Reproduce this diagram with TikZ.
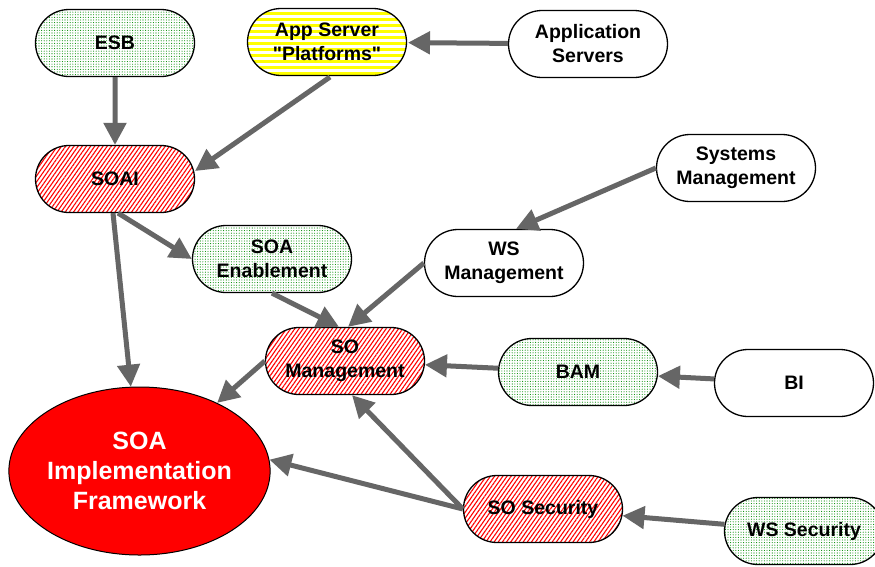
\documentclass[tikz,border=0pt]{standalone}
\usepackage{fontspec}
\setmainfont{Liberation Sans}[Ligatures=TeXOff]
\usetikzlibrary{shapes.misc,shapes.geometric,arrows.meta,patterns.meta,calc}
\definecolor{arrowgray}{HTML}{666666}
\begin{document}
\begin{tikzpicture}[x=1pt,y=-1pt,
 box/.style={rounded rectangle, draw=black, line width=1.3pt, minimum width=159pt, minimum height=67pt, inner sep=0pt, align=center, font=\bfseries\fontsize{19.5}{24}\selectfont},
 plainbox/.style={box, fill=white},
 greenbox/.style={box, preaction={fill=white}, pattern={Dots[distance=2.6pt,radius=0.55pt]}, pattern color=green!55!black},
 redbox/.style={box, preaction={fill=white}, pattern={Lines[angle=55,distance=3.4pt,line width=1.1pt]}, pattern color=red},
 yellowbox/.style={box, preaction={fill=white}, pattern={Lines[angle=0,distance=6pt,line width=3pt]}, pattern color=yellow},
 conn/.style={draw=arrowgray, line width=5pt, -{Triangle[length=22pt,width=22pt]}},
]
\useasboundingbox[fill=white] (0,0) rectangle (875,566);

\node[greenbox] (esb) at (115,43) {ESB};
\node[yellowbox] (app) at (327,42) {App Server\\"Platforms"};
\node[plainbox] (appsrv) at (588,44) {Application\\Servers};
\node[redbox] (soai) at (115,179) {SOAI};
\node[plainbox] (sys) at (736,168) {Systems\\Management};
\node[greenbox] (soaen) at (272,259) {SOA\\Enablement};
\node[plainbox] (wsm) at (504,263) {WS\\Management};
\node[redbox] (som) at (345,361) {SO\\Management};
\node[greenbox] (bam) at (578,372) {BAM};
\node[plainbox] (bi) at (794,383) {BI};
\node[redbox] (sosec) at (543,509) {SO Security};
\node[greenbox] (wssec) at (804,531) {WS Security};
\node[ellipse, draw=black, line width=1pt, fill=red, minimum width=255pt, minimum height=168pt, inner sep=0pt, text=white, align=center, font=\bfseries\fontsize{25}{30}\selectfont] (fw) at (139.5,471) {SOA\\Implementation\\Framework};

\draw[conn] (esb) -- (soai);
\draw[conn] ($(app.south)+(3,0)$) -- ($(soai.east)+(0,-8)$);
\draw[conn] (appsrv) -- (app);
\draw[conn] ($(soai.south)+(3,0)$) -- (soaen.west);
\draw[conn] ($(soai.south)+(-2,0)$) -- (fw);
\draw[conn] (sys.west) -- ($(wsm.north)+(12,0)$);
\draw[conn] (wsm.west) -- ($(som.north)+(3,0)$);
\draw[conn] (soaen.south) -- ($(som.north)+(-6,0)$);
\draw[conn] (som.west) -- (fw);
\draw[conn] (bam) -- (som);
\draw[conn] (bi) -- (bam);
\draw[conn] (sosec.west) -- ($(som.south)+(7,0)$);
\draw[conn] (sosec.west) -- (fw.5);
\draw[conn] (wssec) -- (sosec);
\end{tikzpicture}
\end{document}
